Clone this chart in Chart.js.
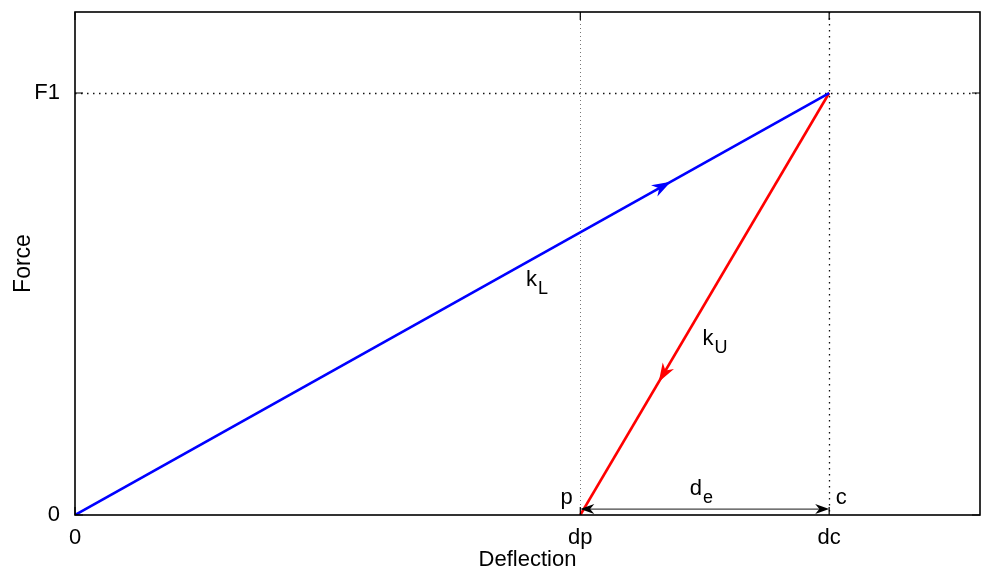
<!DOCTYPE html>
<html>
<head>
<meta charset="utf-8">
<script src="https://cdn.jsdelivr.net/npm/chart.js@4"></script>
<style>
html, body { margin: 0; background: #fff; }
#wrap { width: 986px; height: 571px; }
</style>
</head>
<body>
<div id="wrap"><canvas id="forceChart"></canvas></div>
<script>
var xTickValues = [0, 0.67, 1];
var xTickLabels = ["0", "dp", "dc"];
var yTickValues = [0, 1];
var yTickLabels = ["0", "F1"];
var xMax = 1.2;
var yMax = 1.192;

var loadingX = [0, 1];
var loadingY = [0, 1];
var unloadingX = [1, 0.67];
var unloadingY = [1, 0];

// text notes on the plot (value coordinates)
var noteText = ["k", "k", "d", "p", "c"];
var noteSub = ["L", "U", "e", "", ""];
var noteX = [0.612, 0.848, 0.83, 0.652, 1.016];
var noteY = [0.56, 0.42, 0.065, 0.043, 0.043];

// where the direction arrows sit along each branch
var loadArrowX = 0.79;
var unloadArrowY = 0.315;
var elasticY = 0.014;

var FONT = "'Liberation Sans', Arial, Helvetica, sans-serif";

function toPoints(xs, ys) {
    return xs.map(function (x, i) { return {x: x, y: ys[i]}; });
}

function arrowHead(ctx, x, y, angle, len, wid, color) {
    ctx.save();
    ctx.translate(x, y);
    ctx.rotate(angle);
    ctx.beginPath();
    ctx.moveTo(0, 0);
    ctx.lineTo(-len, -wid / 2);
    ctx.lineTo(-len * 0.7, 0);
    ctx.lineTo(-len, wid / 2);
    ctx.closePath();
    ctx.fillStyle = color;
    ctx.fill();
    ctx.restore();
}

var matlabLook = {
    id: "matlabLook",
    beforeDatasetsDraw: function (chart) {
        var ctx = chart.ctx, xs = chart.scales.x, ys = chart.scales.y, a = chart.chartArea;
        ctx.save();
        // dotted grid lines
        xTickValues.forEach(function (v, i) {
            if (v === 0) return;
            var px = Math.round(xs.getPixelForValue(v)) + 0.5;
            ctx.beginPath();
            ctx.setLineDash(i === 1 ? [1, 3] : [1.5, 4.5]);
            ctx.strokeStyle = i === 1 ? "#777" : "#111";
            ctx.lineWidth = i === 1 ? 1 : 1.3;
            ctx.moveTo(px, a.top);
            ctx.lineTo(px, a.bottom);
            ctx.stroke();
        });
        yTickValues.forEach(function (v) {
            if (v === 0) return;
            var py = Math.round(ys.getPixelForValue(v)) + 0.5;
            ctx.beginPath();
            ctx.setLineDash([1.5, 4.5]);
            ctx.strokeStyle = "#111";
            ctx.lineWidth = 1.3;
            ctx.moveTo(a.left, py);
            ctx.lineTo(a.right, py);
            ctx.stroke();
        });
        ctx.restore();
    },
    afterDatasetsDraw: function (chart) {
        var ctx = chart.ctx, xs = chart.scales.x, ys = chart.scales.y, a = chart.chartArea;
        ctx.save();

        // loading arrow (blue)
        var bx0 = xs.getPixelForValue(loadingX[0]), by0 = ys.getPixelForValue(loadingY[0]);
        var bx1 = xs.getPixelForValue(loadingX[1]), by1 = ys.getPixelForValue(loadingY[1]);
        var bAng = Math.atan2(by1 - by0, bx1 - bx0);
        var bt = (loadArrowX - loadingX[0]) / (loadingX[1] - loadingX[0]);
        var bY = loadingY[0] + bt * (loadingY[1] - loadingY[0]);
        arrowHead(ctx, xs.getPixelForValue(loadArrowX), ys.getPixelForValue(bY), bAng, 19, 13, "#0000ff");

        // unloading arrow (red)
        var rx0 = xs.getPixelForValue(unloadingX[0]), ry0 = ys.getPixelForValue(unloadingY[0]);
        var rx1 = xs.getPixelForValue(unloadingX[1]), ry1 = ys.getPixelForValue(unloadingY[1]);
        var rAng = Math.atan2(ry1 - ry0, rx1 - rx0);
        var rt = (unloadArrowY - unloadingY[0]) / (unloadingY[1] - unloadingY[0]);
        var rX = unloadingX[0] + rt * (unloadingX[1] - unloadingX[0]);
        arrowHead(ctx, xs.getPixelForValue(rX), ys.getPixelForValue(unloadArrowY), rAng, 19, 13, "#ff0000");

        // elastic recovery double arrow
        var ex0 = xs.getPixelForValue(unloadingX[1]), ex1 = xs.getPixelForValue(unloadingX[0]);
        var ey = ys.getPixelForValue(elasticY);
        ctx.beginPath();
        ctx.strokeStyle = "#444";
        ctx.lineWidth = 1.2;
        ctx.moveTo(ex0 + 4, ey);
        ctx.lineTo(ex1 - 4, ey);
        ctx.stroke();
        arrowHead(ctx, ex0, ey, Math.PI, 14, 10, "#000");
        arrowHead(ctx, ex1, ey, 0, 14, 10, "#000");

        // notes
        ctx.fillStyle = "#000";
        ctx.textBaseline = "alphabetic";
        noteText.forEach(function (t, i) {
            var px = xs.getPixelForValue(noteX[i]), py = ys.getPixelForValue(noteY[i]);
            ctx.font = "22px " + FONT;
            var w = ctx.measureText(t).width;
            ctx.textAlign = "left";
            var sw = 0;
            if (noteSub[i]) {
                ctx.font = "18px " + FONT;
                sw = ctx.measureText(noteSub[i]).width;
            }
            var x0 = px - (w + sw) / 2;
            ctx.font = "22px " + FONT;
            ctx.fillText(t, x0, py + 7);
            if (noteSub[i]) {
                ctx.font = "18px " + FONT;
                ctx.fillText(noteSub[i], x0 + w + 1, py + 15);
            }
        });

        // frame and inward ticks
        ctx.strokeStyle = "#000";
        ctx.lineWidth = 1.6;
        ctx.strokeRect(a.left, a.top, a.right - a.left, a.bottom - a.top);
        ctx.lineWidth = 1.2;
        ctx.beginPath();
        xTickValues.forEach(function (v) {
            var px = xs.getPixelForValue(v);
            ctx.moveTo(px, a.bottom); ctx.lineTo(px, a.bottom - 8);
            ctx.moveTo(px, a.top); ctx.lineTo(px, a.top + 8);
        });
        yTickValues.forEach(function (v) {
            var py = ys.getPixelForValue(v);
            ctx.moveTo(a.left, py); ctx.lineTo(a.left + 8, py);
            ctx.moveTo(a.right, py); ctx.lineTo(a.right - 8, py);
        });
        ctx.stroke();
        ctx.restore();
    }
};

new Chart(document.querySelector("#forceChart"), {
    type: "line",
    data: {
        datasets: [{
            label: "Loading",
            data: toPoints(loadingX, loadingY),
            borderColor: "#0000ff",
            borderWidth: 2.6,
            pointRadius: 0,
            fill: false
        }, {
            label: "Unloading",
            data: toPoints(unloadingX, unloadingY),
            borderColor: "#ff0000",
            borderWidth: 2.6,
            pointRadius: 0,
            fill: false
        }]
    },
    options: {
        responsive: true,
        maintainAspectRatio: false,
        animation: false,
        layout: {padding: {top: 12, right: 6, left: 0, bottom: 0}},
        plugins: {
            legend: {display: false},
            tooltip: {enabled: false}
        },
        scales: {
            x: {
                type: "linear",
                min: 0,
                max: xMax,
                grid: {display: false},
                border: {display: false},
                afterBuildTicks: function (scale) {
                    scale.ticks = xTickValues.map(function (v) { return {value: v}; });
                },
                afterFit: function (scale) {
                    scale.height = 56;
                    scale.paddingLeft = 0;
                    scale.paddingRight = 0;
                },
                ticks: {
                    autoSkip: false,
                    maxRotation: 0,
                    padding: 2,
                    color: "#000",
                    font: {family: FONT, size: 22},
                    callback: function (value) {
                        var i = xTickValues.indexOf(value);
                        return i < 0 ? "" : xTickLabels[i];
                    }
                },
                title: {
                    display: true,
                    text: "Deflection",
                    color: "#000",
                    font: {family: FONT, size: 22},
                    padding: {top: 0, bottom: -2}
                }
            },
            y: {
                type: "linear",
                min: 0,
                max: yMax,
                grid: {display: false},
                border: {display: false},
                afterBuildTicks: function (scale) {
                    scale.ticks = yTickValues.map(function (v) { return {value: v}; });
                },
                afterFit: function (scale) {
                    scale.width = 75;
                    scale.paddingTop = 0;
                    scale.paddingBottom = 0;
                },
                ticks: {
                    autoSkip: false,
                    padding: 7,
                    color: "#000",
                    font: {family: FONT, size: 22},
                    callback: function (value) {
                        var i = yTickValues.indexOf(value);
                        return i < 0 ? "" : yTickLabels[i];
                    }
                },
                title: {
                    display: true,
                    text: "Force",
                    color: "#000",
                    font: {family: FONT, size: 23},
                    padding: {top: 10, bottom: 0}
                }
            }
        }
    },
    plugins: [matlabLook]
});
</script>
</body>
</html>
